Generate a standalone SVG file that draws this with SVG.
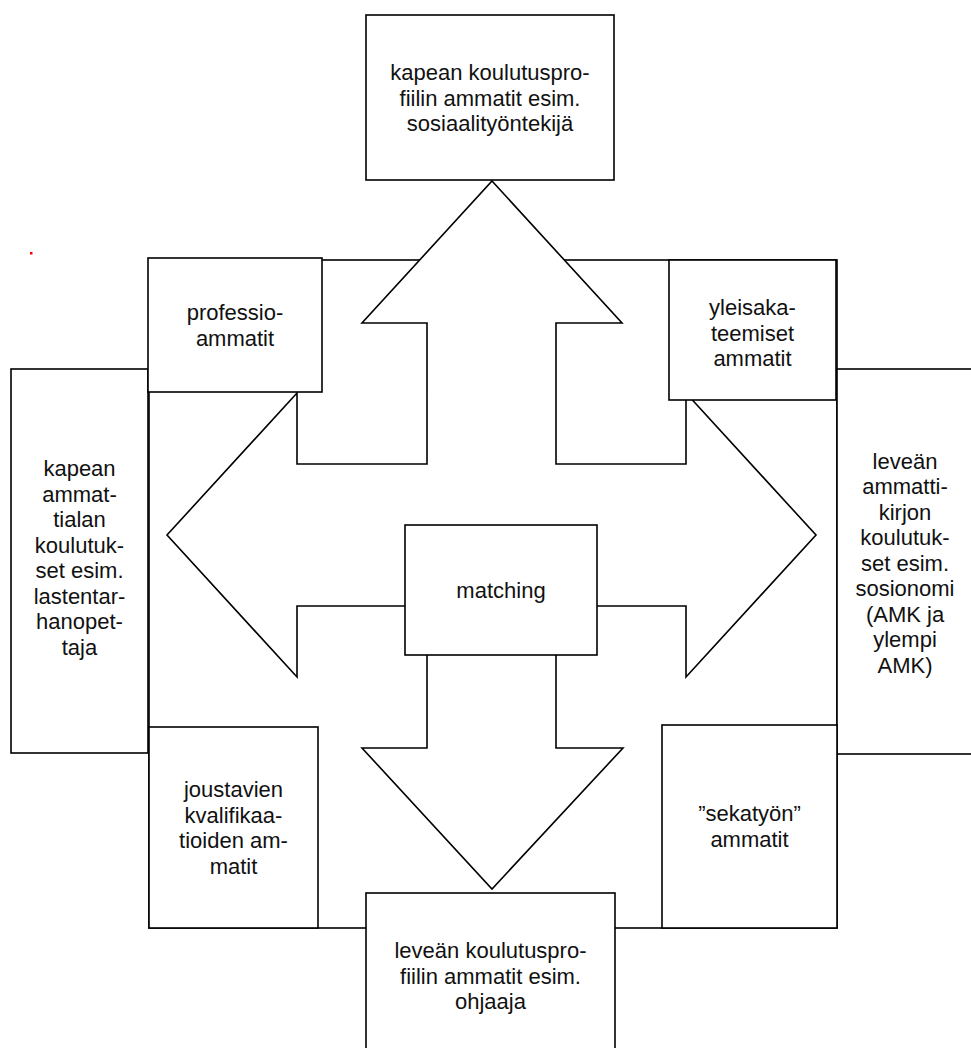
<svg xmlns="http://www.w3.org/2000/svg" width="971" height="1048" viewBox="0 0 971 1048">
<style>
.box{fill:#fff;stroke:#000;stroke-width:1.6}
.shape{fill:#fff;stroke:#000;stroke-width:1.6;stroke-linejoin:miter}
.t{font-family:"Liberation Sans",Arial,sans-serif;font-size:22px;fill:#111;text-anchor:middle}
</style>
<rect width="971" height="1048" fill="#fff"/>
<rect x="30" y="252" width="2.5" height="2.5" fill="#ff0000"/>
<g id="frame">
<rect class="shape" x="149" y="260" width="688" height="668" fill="none"/>
</g>
<g id="connectors">
<polygon class="shape" points="492,181 622,323 556,323 556,464 686,464 686,393 816,535 686,677 686,606 556,606 556,748 623,748 492,889 362,748 427,748 427,606 297,606 297,677 167,535 297,393 297,464 427,464 427,323 362,323"/>
</g>
<g id="top">
<rect class="box" x="366" y="15" width="248" height="165"/>
<text class="t" x="490" y="80">kapean koulutuspro-</text>
<text class="t" x="490" y="105.5">fiilin ammatit esim.</text>
<text class="t" x="490" y="131">sosiaalityöntekijä</text>
</g>
<g id="bottom">
<rect class="box" x="366" y="893" width="249" height="165"/>
<text class="t" x="490.5" y="958">leveän koulutuspro-</text>
<text class="t" x="490.5" y="983.5">fiilin ammatit esim.</text>
<text class="t" x="490.5" y="1009">ohjaaja</text>
</g>
<g id="left">
<rect class="box" x="11" y="369" width="137" height="384"/>
<text class="t" x="79.5" y="476">kapean</text>
<text class="t" x="79.5" y="501.5">ammat-</text>
<text class="t" x="79.5" y="527">tialan</text>
<text class="t" x="79.5" y="552.5">koulutuk-</text>
<text class="t" x="79.5" y="578">set esim.</text>
<text class="t" x="79.5" y="603.5">lastentar-</text>
<text class="t" x="79.5" y="629">hanopet-</text>
<text class="t" x="79.5" y="654.5">taja</text>
</g>
<g id="right">
<rect class="box" x="837" y="369" width="160" height="385"/>
<text class="t" x="905" y="468.5">leveän</text>
<text class="t" x="905" y="494">ammatti-</text>
<text class="t" x="905" y="519.5">kirjon</text>
<text class="t" x="905" y="545">koulutuk-</text>
<text class="t" x="905" y="570.5">set esim.</text>
<text class="t" x="905" y="596">sosionomi</text>
<text class="t" x="905" y="621.5">(AMK ja</text>
<text class="t" x="905" y="647">ylempi</text>
<text class="t" x="905" y="672.5">AMK)</text>
</g>
<g id="professio">
<rect class="box" x="148" y="258" width="174" height="134"/>
<text class="t" x="235" y="320">professio-</text>
<text class="t" x="235" y="345.5">ammatit</text>
</g>
<g id="yleisakateemiset">
<rect class="box" x="669" y="260" width="167" height="140"/>
<text class="t" x="752.5" y="315">yleisaka-</text>
<text class="t" x="752.5" y="340.5">teemiset</text>
<text class="t" x="752.5" y="366">ammatit</text>
</g>
<g id="joustavien">
<rect class="box" x="149" y="727" width="169" height="201"/>
<text class="t" x="233.5" y="797">joustavien</text>
<text class="t" x="233.5" y="822.5">kvalifikaa-</text>
<text class="t" x="233.5" y="848">tioiden am-</text>
<text class="t" x="233.5" y="873.5">matit</text>
</g>
<g id="sekatyon">
<rect class="box" x="662" y="725" width="175" height="203"/>
<text class="t" x="749.5" y="821">”sekatyön”</text>
<text class="t" x="749.5" y="846.5">ammatit</text>
</g>
<g id="matching">
<rect class="box" x="405" y="525" width="192" height="130"/>
<text class="t" x="501" y="598">matching</text>
</g>
</svg>
